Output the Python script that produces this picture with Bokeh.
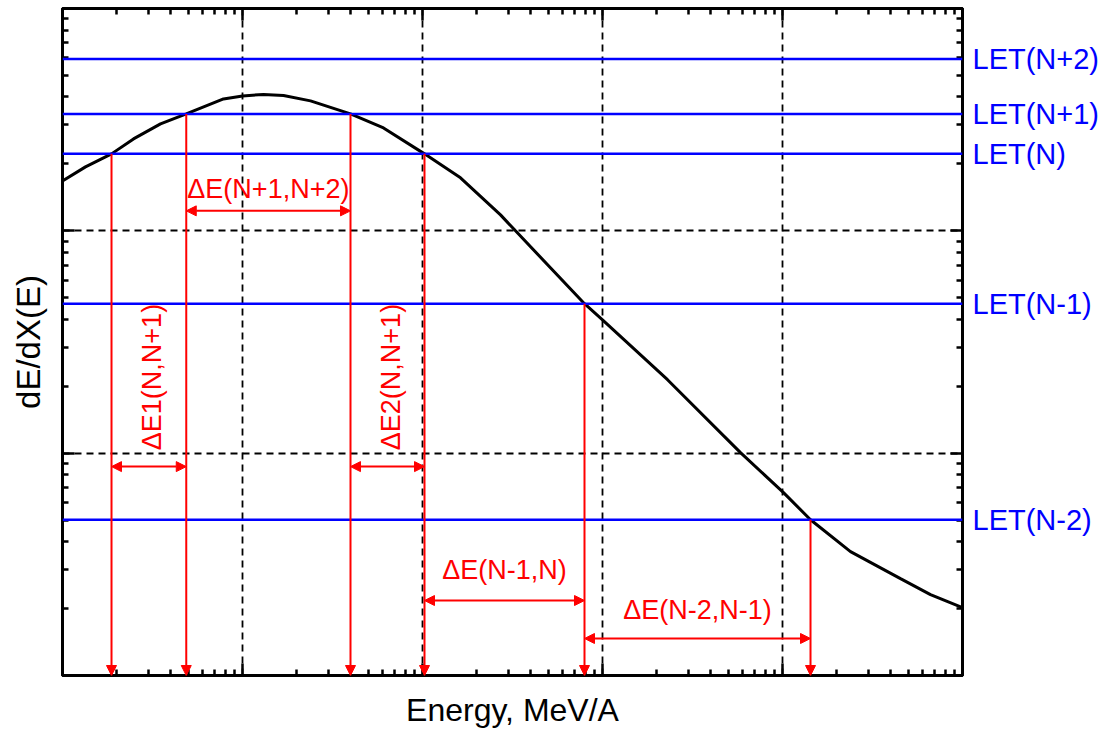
import math
from bokeh.plotting import figure
from bokeh.models import (LogAxis, FixedTicker, CustomJSTickFormatter, Span, Arrow,
                          NormalHead, Label, ColumnDataSource)
from bokeh.embed import file_html
from bokeh.resources import INLINE

# ---------------- data ----------------
# stopping-power curve dE/dX(E)
energy_curve = [0.01, 0.01342, 0.01872, 0.02480, 0.03504, 0.0487, 0.0784, 0.1, 0.1308,
                0.1690, 0.2387, 0.3981, 0.6073, 1.026, 1.626, 2.713, 3.286, 7.943, 10.0,
                22.97, 58.43, 101.3, 143.1, 238.7, 452.4, 664.1, 1000.0]
dedx_curve = [167.8, 193.9, 221.9, 259.1, 302.7, 335.7, 392.1, 404.4, 410.7,
              406.5, 384.1, 335.7, 290.4, 221.9, 173.1, 118.0, 100.0, 47.0, 39.8,
              21.4, 10.05, 6.645, 5.02, 3.607, 2.729, 2.312, 2.021]

# LET levels
let_names = ["LET(N+2)", "LET(N+1)", "LET(N)", "LET(N-1)", "LET(N-2)"]
let_values = [593.0, 335.7, 221.9, 47.0, 5.02]

# energies where the curve crosses the LET levels (red verticals)
cross_energy = [0.01872, 0.0487, 0.3981, 1.026, 7.943, 143.1]
cross_let = [221.9, 335.7, 335.7, 221.9, 47.0, 5.02]

# energy intervals (double arrows)
interval_names = ["ΔE1(N,N+1)", "ΔE(N+1,N+2)", "ΔE2(N,N+1)", "ΔE(N-1,N)", "ΔE(N-2,N-1)"]
interval_start = [0.01872, 0.0487, 0.3981, 1.026, 7.943]
interval_end = [0.0487, 0.3981, 1.026, 7.943, 143.1]
interval_level = [8.70, 123.0, 8.70, 2.174, 1.467]

# axis ticks
x_decades = [0.01, 0.1, 1, 10, 100, 1000]
y_decades = [1, 10, 100, 1000]
x_minor = [k * d for d in x_decades[:-1] for k in range(2, 10)]
y_minor = [k * d for d in y_decades[:-1] for k in range(2, 10)]

# ---------------- figure ----------------
FONT = "Liberation Sans"
RED = "#ff0000"
BLUE = "#0000ff"

p = figure(frame_width=900, frame_height=667,
           x_axis_type="log", y_axis_type="log",
           x_range=(0.01, 1000), y_range=(1, 1000),
           output_backend="svg", toolbar_location=None,
           min_border_left=62, min_border_right=140, min_border_top=8, min_border_bottom=0,
           background_fill_color="white", border_fill_color="white",
           outline_line_color="black", outline_line_width=3,
           x_axis_label="Energy, MeV/A", y_axis_label="dE/dX(E)")

xt = FixedTicker(ticks=x_decades, minor_ticks=x_minor)
yt = FixedTicker(ticks=y_decades, minor_ticks=y_minor)


def style_axis(ax, ticker):
    ax.ticker = ticker
    ax.formatter = CustomJSTickFormatter(code="return ''")
    ax.major_label_text_font_size = "0px"
    ax.major_label_standoff = 0
    ax.major_tick_in = 12
    ax.major_tick_out = 0
    ax.minor_tick_in = 6
    ax.minor_tick_out = 0
    ax.axis_line_width = 3
    ax.axis_line_color = "black"
    ax.major_tick_line_width = 2.5
    ax.minor_tick_line_width = 2.5
    ax.major_tick_line_color = "black"
    ax.minor_tick_line_color = "black"
    ax.axis_label_text_font = FONT
    ax.axis_label_text_font_style = "normal"
    ax.axis_label_text_color = "black"


style_axis(p.xaxis[0], xt)
style_axis(p.yaxis[0], yt)
p.xaxis[0].axis_label_text_font_size = "32px"
p.yaxis[0].axis_label_text_font_size = "33px"
p.xaxis[0].axis_label_standoff = 16
p.yaxis[0].axis_label_standoff = 16

top_ax = LogAxis()
style_axis(top_ax, xt)
right_ax = LogAxis()
style_axis(right_ax, yt)
p.add_layout(top_ax, "above")
p.add_layout(right_ax, "right")

# LET names shown as labels of an extra right-hand axis placed at the LET levels
let_ax = LogAxis(ticker=FixedTicker(ticks=let_values, minor_ticks=[]),
                 formatter=CustomJSTickFormatter(
                     args=dict(vals=let_values, names=let_names),
                     code="""
                     for (let i = 0; i < vals.length; i++) {
                         if (Math.abs(vals[i] - tick) < 1e-6 * vals[i]) { return names[i]; }
                     }
                     return '';
                     """),
                 axis_line_color=None, major_tick_line_color=None, minor_tick_line_color=None,
                 major_tick_in=0, major_tick_out=0, minor_tick_in=0, minor_tick_out=0,
                 major_label_standoff=10, major_label_text_font=FONT,
                 major_label_text_font_size="29px", major_label_text_color=BLUE)
p.add_layout(let_ax, "right")

p.xgrid.ticker = xt
p.ygrid.ticker = yt
for g in (p.xgrid[0], p.ygrid[0]):
    g.grid_line_color = "black"
    g.grid_line_dash = "7 5"
    g.grid_line_width = 1.8

# curve
p.line(energy_curve, dedx_curve, line_color="black", line_width=3)

# LET levels
for v in let_values:
    p.add_layout(Span(location=v, dimension="width", line_color=BLUE, line_width=2.5))

# red verticals with arrow heads down to the energy axis
vsrc = ColumnDataSource(dict(x=cross_energy, y0=cross_let, y1=[1.0] * len(cross_energy)))
p.add_layout(Arrow(source=vsrc, x_start="x", y_start="y0", x_end="x", y_end="y1",
                   line_color=RED, line_width=2,
                   end=NormalHead(size=10, fill_color=RED, line_color=RED, line_width=1)))

# double arrows between verticals
hsrc = ColumnDataSource(dict(x0=interval_start, x1=interval_end, y=interval_level))
p.add_layout(Arrow(source=hsrc, x_start="x0", y_start="y", x_end="x1", y_end="y",
                   line_color=RED, line_width=2,
                   start=NormalHead(size=10, fill_color=RED, line_color=RED, line_width=1),
                   end=NormalHead(size=10, fill_color=RED, line_color=RED, line_width=1)))

# interval labels
label_style = dict(text_font=FONT, text_font_size="27px", text_color=RED,
                   text_align="center", text_baseline="middle")
vertical_label_level = 22.0
label_offsets = {1: 22, 3: 31, 4: 28}
for i, name in enumerate(interval_names):
    xm = math.sqrt(interval_start[i] * interval_end[i])
    if i in (0, 2):
        p.add_layout(Label(x=xm, y=vertical_label_level, x_offset=3, text=name,
                           angle=math.pi / 2, **label_style))
    else:
        p.add_layout(Label(x=xm, y=interval_level[i], y_offset=label_offsets[i],
                           text=name, **label_style))

open("out.html", "w").write(file_html(p, INLINE))
